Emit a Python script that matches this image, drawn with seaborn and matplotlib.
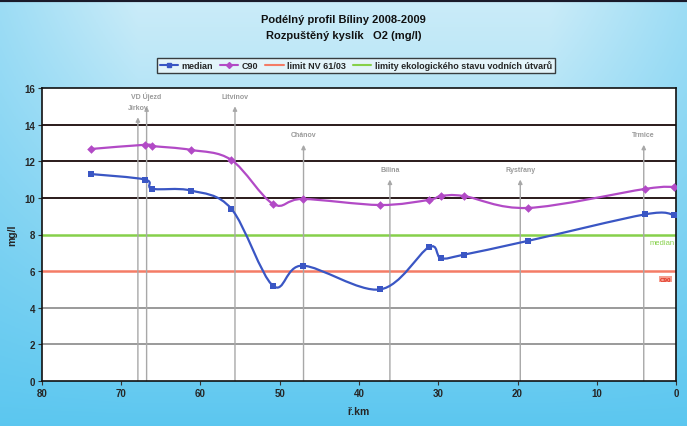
import numpy as np
import pandas as pd
import matplotlib
matplotlib.use("Agg")
import matplotlib.pyplot as plt
import seaborn as sns
from matplotlib.path import Path
from matplotlib.patches import PathPatch
from matplotlib.lines import Line2D

# ---------------- data ----------------
km = [73.8, 67.0, 66.1, 61.2, 56.1, 50.85, 47.1, 37.35, 31.2, 29.65, 26.75, 18.7, 3.9, 0.25]
median = [11.3, 11.0, 10.5, 10.4, 9.4, 5.2, 6.3, 5.0, 7.3, 6.7, 6.9, 7.65, 9.1, 9.07]
c90 = [12.67, 12.9, 12.83, 12.62, 12.07, 9.67, 9.94, 9.61, 9.89, 10.1, 10.1, 9.45, 10.49, 10.6]

limit_nv = 6.0
limit_eko = 8.0

stations = ["Jirkov", "VD Újezd", "Litvínov", "Chánov", "Bílina", "Rystřany", "Trmice"]
station_km = [67.9, 66.8, 55.65, 47.0, 36.1, 19.65, 4.07]
station_top = [14.4, 15.0, 15.0, 12.9, 11.0, 11.0, 12.9]

x_ticks = [80, 70, 60, 50, 40, 30, 20, 10, 0]
y_ticks = [0, 2, 4, 6, 8, 10, 12, 14, 16]

title = "Podélný profil Bíliny 2008-2009\nRozpuštěný kyslík   O2 (mg/l)"

# ---------------- style ----------------
sns.set_theme(style="white")
plt.rcParams["font.family"] = ["Liberation Sans Narrow", "Liberation Sans", "DejaVu Sans"]

BLUE = "#3a56c4"
VIOLET = "#b24ac6"
SALMON = "#f47c66"
GREEN = "#86d04a"
GREYLINE = "#a8a8a8"

fig = plt.figure(figsize=(6.87, 4.27), dpi=100)

# gradient background
bg = fig.add_axes([0, 0, 1, 1], zorder=-10)
h, w = 200, 300
yy = np.linspace(0, 1, h)[:, None]
xx = np.linspace(0, 1, w)[None, :]
edge = np.clip(np.maximum(np.abs(xx - 0.5) * 2 - 0.6, 0) / 0.4, 0, 1)
t = np.clip(0.15 + 0.85 * yy ** 1.1 + 0.35 * edge * (1 - yy), 0, 1)
top_c = np.array([0.87, 0.95, 0.98])
bot_c = np.array([0.36, 0.78, 0.94])
img = top_c[None, None, :] * (1 - t[..., None]) + bot_c[None, None, :] * t[..., None]
bg.imshow(img, aspect="auto", extent=[0, 1, 0, 1], origin="upper")
bg.axhline(0.997, color="#1a1a2a", lw=3)
bg.set_xlim(0, 1); bg.set_ylim(0, 1)
bg.axis("off")

ax = fig.add_axes([42 / 687, 1 - 382 / 427, (676 - 42) / 687, (382 - 89) / 427])
ax.set_facecolor("white")

# grid lines
for yv in y_ticks[1:-1]:
    if yv in (limit_nv, limit_eko):
        continue
    ax.axhline(yv, color="#2a1a1a" if yv >= 10 else "#9a9a9a", lw=1.4, zorder=1)

ax.axhline(limit_nv, color=SALMON, lw=1.8, zorder=2)
ax.axhline(limit_eko, color=GREEN, lw=1.8, zorder=2)

# station markers
for name, xs, top in zip(stations, station_km, station_top):
    ax.annotate("", xy=(xs, top), xytext=(xs, 0),
                arrowprops=dict(arrowstyle="-|>", color=GREYLINE, lw=1.0,
                                mutation_scale=6, shrinkA=0, shrinkB=0), zorder=2)
    ax.text(xs, top + 0.35, name, ha="center", va="bottom", fontsize=5,
            color="#9a9a9a", fontweight="bold")


def smooth_path(xs, ys):
    pts = np.column_stack([xs, ys]).astype(float)
    n = len(pts)
    verts = [pts[0]]
    codes = [Path.MOVETO]
    for i in range(n - 1):
        p0 = pts[i - 1] if i > 0 else pts[i]
        p1 = pts[i]
        p2 = pts[i + 1]
        p3 = pts[i + 2] if i + 2 < n else pts[i + 1]
        c1 = p1 + (p2 - p0) / 6.0
        c2 = p2 - (p3 - p1) / 6.0
        verts += [c1, c2, p2]
        codes += [Path.CURVE4] * 3
    return Path(verts, codes)


df = pd.DataFrame({"km": km, "median": median, "C90": c90})

for col, color, marker, ms in (("C90", VIOLET, "D", 4.0), ("median", BLUE, "s", 4.5)):
    ax.add_patch(PathPatch(smooth_path(df["km"], df[col]), fill=False,
                           edgecolor=color, lw=1.6, zorder=4))
    sns.scatterplot(data=df, x="km", y=col, ax=ax, color=color, marker=marker,
                    s=ms ** 2 * 1.2, edgecolor=color, linewidth=0, zorder=5, legend=False)

ax.text(0.2, limit_eko - 0.25, "median", ha="right", va="top", fontsize=5.5, color=GREEN)
ax.text(0.6, limit_nv - 0.3, "C90", ha="right", va="top", fontsize=4.5, color="#e03020",
        fontweight="bold",
        bbox=dict(boxstyle="square,pad=0.1", facecolor="#f6a090", edgecolor="none"))

ax.set_xlim(80, 0)
ax.set_ylim(0, 16)
ax.set_xticks(x_ticks)
ax.set_yticks(y_ticks)
ax.tick_params(axis="both", labelsize=7, length=3, width=0.8, color="#333333", pad=2,
               direction="out", bottom=True, left=True)
for lab in ax.get_xticklabels() + ax.get_yticklabels():
    lab.set_fontweight("bold")
ax.set_xlabel("ř.km", fontsize=7.5, fontweight="bold", labelpad=6)
ax.set_ylabel("mg/l", fontsize=7.5, fontweight="bold", labelpad=5)
for sp in ax.spines.values():
    sp.set_color("#111111")
    sp.set_linewidth(1.2)
ax.grid(False)

fig.text(0.5, 0.935, title, ha="center", va="center", fontsize=8, fontweight="bold",
         linespacing=1.7, color="#111111")

handles = [
    Line2D([], [], color=BLUE, marker="s", ms=3.5, lw=1.5),
    Line2D([], [], color=VIOLET, marker="D", ms=3, lw=1.5),
    Line2D([], [], color=SALMON, lw=1.5),
    Line2D([], [], color=GREEN, lw=1.5),
]
labels = ["median", "C90", "limit NV 61/03", "limity ekologického stavu vodních útvarů"]
leg = fig.legend(handles, labels, loc="center", bbox_to_anchor=(0.518, 0.845), ncol=4,
                 frameon=True, fancybox=False, handlelength=2.0,
                 handletextpad=0.4, columnspacing=0.8, borderpad=0.3,
                 prop={"weight": "bold", "size": 6.5})
leg.get_frame().set_edgecolor("#111111")
leg.get_frame().set_linewidth(1.0)
leg.get_frame().set_facecolor("#eef8fc")

fig.savefig("out.png", dpi=100)
